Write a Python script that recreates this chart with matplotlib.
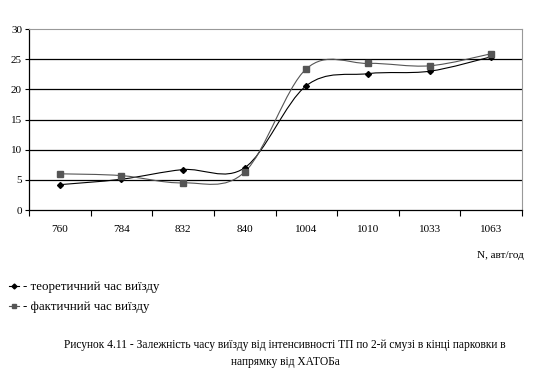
import numpy as np
import matplotlib
matplotlib.use('Agg')
import matplotlib.pyplot as plt
from matplotlib.path import Path
from matplotlib.patches import PathPatch
from matplotlib.lines import Line2D

plt.rcParams['font.family'] = ['Liberation Serif', 'DejaVu Serif']

categories = ['760', '784', '832', '840', '1004', '1010', '1033', '1063']
theoretical = [4.2, 5.1, 6.7, 7.0, 20.6, 22.6, 23.0, 25.4]
actual = [6.0, 5.7, 4.5, 6.3, 23.4, 24.3, 23.9, 25.9]


def smooth_path(xs, ys):
    # bezier segments like the spreadsheet "smoothed line" option
    pts = np.column_stack([xs, ys])
    n = len(pts)
    verts = [pts[0]]
    codes = [Path.MOVETO]
    for i in range(n - 1):
        p0 = pts[max(i - 1, 0)]
        p1 = pts[i]
        p2 = pts[i + 1]
        p3 = pts[min(i + 2, n - 1)]
        c1 = p1 + (p2 - p0) / 6
        c2 = p2 - (p3 - p1) / 6
        verts += [c1, c2, p2]
        codes += [Path.CURVE4] * 3
    return Path(verts, codes)


W, H = 534, 374
fig = plt.figure(figsize=(W / 100, H / 100), dpi=100)
ax = fig.add_axes([29 / W, (H - 210) / H, (522 - 29) / W, (210 - 29) / H])

x = np.arange(len(categories))
black = '#000000'
grey = '#555555'

for vals, col, mk, ms in [(theoretical, black, 'D', 3), (actual, grey, 's', 4)]:
    ax.add_patch(PathPatch(smooth_path(x, vals), fill=False, edgecolor=col, lw=0.8, zorder=3))
    ax.plot(x, vals, ls='none', marker=mk, ms=ms, color=col, zorder=4)

ax.set_xlim(-0.5, len(categories) - 0.5)
ax.set_ylim(0, 30)
ax.set_yticks(range(0, 31, 5))
ax.tick_params(axis='y', labelsize=8, length=3, width=0.8, pad=2)
ax.set_xticks(x)
ax.set_xticklabels(categories, fontsize=8)
ax.tick_params(axis='x', length=0, pad=11)
ax.set_xticks(np.arange(-0.5, len(categories)), minor=True)
ax.tick_params(axis='x', which='minor', length=4, width=0.8, direction='out')

for yv in range(5, 30, 5):
    ax.axhline(yv, color='black', lw=0.9, zorder=1)

ax.spines['top'].set_color('#999999')
ax.spines['right'].set_color('#999999')
ax.spines['left'].set_linewidth(0.9)
ax.spines['bottom'].set_linewidth(0.9)

fig.text(524 / W, 1 - 256 / H, 'N, авт/год', ha='right', va='center', fontsize=8)

handles = [
    Line2D([], [], color=black, marker='D', ms=2.5, lw=0.8),
    Line2D([], [], color=grey, marker='s', ms=3, lw=0.8),
]
fig.legend(handles, ['- теоретичний час виїзду', '- фактичний час виїзду'],
           loc='upper left', bbox_to_anchor=(9 / W, 1 - 281 / H), frameon=False,
           prop={'size': 9.3}, handlelength=0.8, handletextpad=0.25, labelspacing=0.65,
           borderpad=0, borderaxespad=0)

fig.text(285 / W, 1 - 345 / H,
         'Рисунок 4.11 - Залежність часу виїзду від інтенсивності ТП по 2-й смузі в кінці парковки в',
         ha='center', va='center', fontsize=8.3)
fig.text(285 / W, 1 - 362 / H, 'напрямку від ХАТОБа', ha='center', va='center', fontsize=8.3)

fig.savefig('out.png', dpi=100)
